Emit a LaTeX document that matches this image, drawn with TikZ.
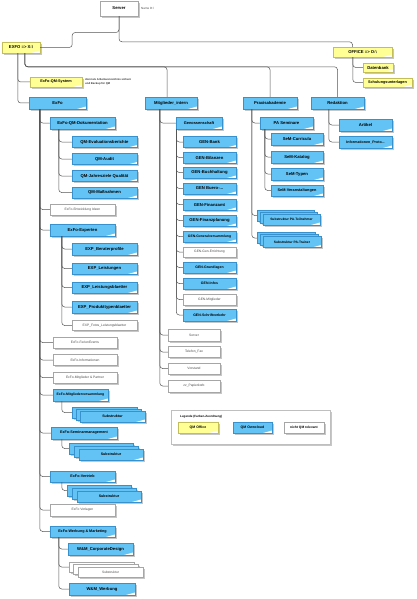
\documentclass[tikz,border=0pt]{standalone}
\usepackage{fontspec}
\setmainfont{Liberation Sans}
\usetikzlibrary{shadows,calc}
\definecolor{qmblue}{RGB}{100,195,245}
\definecolor{qmblueD}{RGB}{55,145,205}
\definecolor{qmyellow}{RGB}{255,255,150}
\definecolor{qmyellowD}{RGB}{195,190,90}
\definecolor{conncol}{RGB}{85,85,85}
\tikzset{
 base/.style={rectangle, inner sep=0pt, line width=0.4pt,
   drop shadow={shadow xshift=1.8pt, shadow yshift=-1.8pt, fill=black!40, opacity=0.55},
   font=\bfseries\fontsize{4.2}{5}\selectfont,
   path picture={\fill[white] ([xshift=-9pt]path picture bounding box.south east) -- (path picture bounding box.south east) -- ([yshift=2.5pt]path picture bounding box.south east) -- cycle;}},
 bluebox/.style={base, fill=qmblue, draw=qmblueD},
 yelbox/.style={base, fill=qmyellow, draw=qmyellowD},
 whitebox/.style={base, fill=white, draw=black!35, font=\fontsize{3.3}{4}\selectfont, text=black!70},
 conn/.style={draw=conncol, line width=0.5pt, rounded corners=3pt},
 sz/.style={font=\bfseries\fontsize{#1}{#1}\selectfont},
}
\newcommand{\treeconn}[3]{\draw[conn] ([xshift=#2pt]#1.south west) |- (#3.west);}
\begin{document}
\begin{tikzpicture}[x=1pt,y=-1pt]
\fill[white] (0,0) rectangle (416,599);
\useasboundingbox (0,0) rectangle (416,599);

% top
\node[whitebox, font=\bfseries\fontsize{4.2}{5}\selectfont, text=black, minimum width=38, minimum height=15] (server) at (119,8.5) {Server};
\node[anchor=west, font=\fontsize{3}{3}\selectfont, text=black!70, inner sep=0] (namelbl) at (141,8) {Name D:\textbackslash};
\node[yelbox, minimum width=38, minimum height=11] (exfo) at (21,47.5) {EXFO => X:\textbackslash};
\node[yelbox, minimum width=59, minimum height=10] (office) at (362.5,52) {OFFICE => O:\textbackslash};
\node[yelbox, minimum width=30, minimum height=9] (datenbank) at (378,67.5) {Datenbank};
\node[yelbox, sz=3.8, minimum width=49, minimum height=9] (schulung) at (387.5,82.5) {Schulungsunterlagen};
\node[yelbox, sz=3.8, minimum width=52, minimum height=10] (exfoqm) at (56,82) {ExFo-QM-System};
\node[anchor=west, align=left, font=\bfseries\fontsize{2.7}{3.6}\selectfont, text=black!80, inner sep=0] (qmnote) at (85,82) {dient als Arbeitsverzeichnis sichern\\und Backup für QM};

% level 1
\node[bluebox, minimum width=57, minimum height=12] (exfod) at (57.5,103) {ExFo};
\node[bluebox, minimum width=52, minimum height=12] (mi) at (171,103) {Mitglieder\_intern};
\node[bluebox, minimum width=54, minimum height=12] (pa) at (270,103) {Praxisakademie};
\node[bluebox, minimum width=53, minimum height=12] (red) at (337.5,103) {Redaktion};

% ExFo branch
\node[bluebox, minimum width=65, minimum height=12] (qmdok) at (82.5,123) {ExFo-QM-Dokumentation};
\node[bluebox, minimum width=65, minimum height=11] (qm1) at (104.5,142) {QM-Evaluationsberichte};
\node[bluebox, minimum width=65, minimum height=11] (qm2) at (104.5,159) {QM-Audit};
\node[bluebox, minimum width=65, minimum height=11] (qm3) at (104.5,176) {QM-Jahresziele Qualität};
\node[bluebox, minimum width=65, minimum height=11] (qm4) at (104.5,192.5) {QM-Maßnahmen};
\node[whitebox, minimum width=65, minimum height=11] (entw) at (82.5,209.5) {ExFo-Entwicklung Ideen};
\node[bluebox, minimum width=65, minimum height=12] (experten) at (82.5,230) {ExFo-Experten};
\node[bluebox, minimum width=65, minimum height=12] (exp1) at (104.5,249) {EXP\_Beraterprofile};
\node[bluebox, minimum width=65, minimum height=11] (exp2) at (104.5,268.5) {EXP\_Leistungen};
\node[bluebox, minimum width=65, minimum height=11] (exp3) at (104.5,287.5) {EXP\_Leistungsblaetter};
\node[bluebox, minimum width=65, minimum height=12] (exp4) at (104.5,307) {EXP\_Produkttypenblaetter};
\node[whitebox, minimum width=65, minimum height=10] (exp5) at (104.5,325.5) {EXP\_Fotos\_Leistungsblaetter};
\node[whitebox, minimum width=64, minimum height=11] (ferien) at (85,342.5) {ExFo-FerienEvents};
\node[whitebox, minimum width=64, minimum height=11] (infos) at (85,360) {ExFo-Informationen};
\node[whitebox, minimum width=64, minimum height=11] (mitpart) at (85,377.5) {ExFo-Mitglieder \& Partner};
\node[bluebox, sz=3.4, minimum width=55, minimum height=12] (mv) at (80.5,395) {ExFo-Mitgliederversammlung};
\node[bluebox, minimum width=65, minimum height=11] (sa1) at (104.5,412.5) {};
\node[bluebox, minimum width=65, minimum height=11] (sa2) at (108.5,414.5) {};
\node[bluebox, sz=3.6, minimum width=65, minimum height=11] (sa3) at (112.5,416.5) {Substruktur};
\node[bluebox, sz=3.7, minimum width=66, minimum height=12] (sm) at (84,433) {ExFo-Seminarmanagement};
\node[bluebox, minimum width=64, minimum height=11] (sb1) at (101,448.5) {};
\node[bluebox, minimum width=64, minimum height=11] (sb2) at (106,451.5) {};
\node[bluebox, sz=3.6, minimum width=64, minimum height=11] (sb3) at (111,454.5) {Substruktur};
\node[bluebox, sz=3.7, minimum width=65, minimum height=11] (vertrieb) at (82.5,476.5) {ExFo-Vertrieb};
\node[bluebox, minimum width=64, minimum height=11] (sc1) at (99,490.5) {};
\node[bluebox, minimum width=64, minimum height=11] (sc2) at (104,493.5) {};
\node[bluebox, sz=3.6, minimum width=64, minimum height=11] (sc3) at (109,496.5) {Substruktur};
\node[whitebox, minimum width=65, minimum height=12] (vorlagen) at (82.5,510) {ExFo Vorlagen};
\node[bluebox, sz=3.7, minimum width=65, minimum height=11] (wm) at (82.5,531.5) {ExFo-Werbung \& Marketing};
\node[bluebox, minimum width=65, minimum height=12] (wm1) at (100.5,549) {W\&M\_CorporateDesign};
\node[whitebox, minimum width=65, minimum height=10] (sd1) at (101.5,567) {};
\node[whitebox, minimum width=65, minimum height=10] (sd2) at (106,569.5) {};
\node[whitebox, minimum width=65, minimum height=10] (sd3) at (110.5,572) {Substruktur};
\node[bluebox, minimum width=66, minimum height=12] (wm2) at (102,589) {W\&M\_Werbung};

% Mitglieder_intern branch
\node[bluebox, sz=3.9, minimum width=46, minimum height=12] (gen) at (199,123) {Genossenschaft};
\node[bluebox, minimum width=53, minimum height=11] (g1) at (209.5,142) {GEN-Bank};
\node[bluebox, minimum width=53, minimum height=11] (g2) at (209.5,157.5) {GEN-Bilanzen};
\node[bluebox, minimum width=53, minimum height=11] (g3) at (209.5,172.5) {GEN-Buchhaltung};
\node[bluebox, minimum width=53, minimum height=11] (g4) at (209.5,188.5) {GEN Buero-...};
\node[bluebox, minimum width=53, minimum height=11] (g5) at (209.5,204.5) {GEN-Finanzamt};
\node[bluebox, minimum width=53, minimum height=11] (g6) at (209.5,220.5) {GEN-Finanzplanung};
\node[bluebox, sz=3.4, minimum width=53, minimum height=11] (g7) at (209.5,236.5) {GEN-Generalversammlung};
\node[whitebox, minimum width=53, minimum height=10] (g8) at (209.5,252) {GEN-Gen-Errichtung};
\node[bluebox, sz=3.5, minimum width=53, minimum height=11] (g9) at (209.5,267.5) {GEN-Grundlagen};
\node[bluebox, sz=3.5, minimum width=53, minimum height=11] (g10) at (209.5,283.5) {GEN-Infos};
\node[whitebox, minimum width=53, minimum height=11] (g11) at (209.5,299.5) {GEN-Mitglieder};
\node[bluebox, sz=3.5, minimum width=53, minimum height=12] (g12) at (209.5,315) {GEN-Schriftverkehr};
\node[whitebox, minimum width=52, minimum height=12] (srv) at (194,335) {Server};
\node[whitebox, minimum width=52, minimum height=11] (tel) at (194,352) {Telefon\_Fax};
\node[whitebox, minimum width=52, minimum height=11] (vor) at (194,368.5) {Vorstand};
\node[whitebox, minimum width=52, minimum height=12] (zz) at (194,386) {zz\_Papierkorb};

% Praxisakademie branch
\node[bluebox, minimum width=53, minimum height=12] (pas) at (286.5,123) {PA Seminare};
\node[bluebox, minimum width=52, minimum height=12] (sem1) at (297,139) {SeM-Curricula};
\node[bluebox, minimum width=52, minimum height=12] (sem2) at (297,157) {SeM-Katalog};
\node[bluebox, minimum width=52, minimum height=12] (sem3) at (297,174) {SeM-Typen};
\node[bluebox, sz=3.8, minimum width=52, minimum height=11] (sem4) at (297,190.5) {SeM-Veranstaltungen};
\node[bluebox, minimum width=57, minimum height=11] (st1) at (285.5,215.5) {};
\node[bluebox, minimum width=57, minimum height=11] (st2) at (288.5,217.5) {};
\node[bluebox, sz=3.3, minimum width=57, minimum height=11] (st3) at (291.5,219.5) {Substruktur PA-Teilnehmer};
\node[bluebox, minimum width=58, minimum height=11] (su1) at (286,238) {};
\node[bluebox, minimum width=58, minimum height=11] (su2) at (289,240) {};
\node[bluebox, sz=3.3, minimum width=58, minimum height=11] (su3) at (292,242) {Substruktur PA-Trainer};

% Redaktion branch
\node[bluebox, minimum width=53, minimum height=12] (art) at (365.5,125) {Artikel};
\node[bluebox, sz=3.6, minimum width=53, minimum height=12] (info) at (365.5,142) {Informationen\_Proto...};

% legend
\node[base, fill=white, draw=black!25, minimum width=159, minimum height=34] (legend) at (250.5,427) {};
\node[anchor=west, inner sep=0, font=\bfseries\fontsize{3}{3}\selectfont] (legtitle) at (180,416.5) {Legende (Farben-Zuordnung)};
\node[yelbox, sz=3.5, minimum width=40, minimum height=11] (lg1) at (198,427.5) {QM Office};
\node[bluebox, sz=3.5, minimum width=39, minimum height=11] (lg2) at (252.5,427.5) {QM Owncloud};
\node[whitebox, font=\bfseries\fontsize{3.3}{4}\selectfont, text=black, minimum width=40, minimum height=11] (lg3) at (304,427.5) {nicht QM relevant};

% connectors
\draw[conn] (server.south) |- ($([xshift=-10pt]office.north)+(0,-5)$) -- ([xshift=-10pt]office.north);
\draw[conn] (server.south) |- ($(exfo.east)+(32,-15)$) |- (exfo.east);
\treeconn{office}{20}{datenbank}
\treeconn{office}{20}{schulung}
\treeconn{exfo}{16}{exfoqm}
\treeconn{exfo}{16}{exfod}
\draw[conn] ([xshift=23pt]exfo.south west) |- ($(mi.north)+(-4,-30)$) -- ([xshift=-4pt]mi.north);
\draw[conn] ([xshift=23pt]exfo.south west) |- ($(pa.north)+(0,-30)$) -- (pa.north);
\draw[conn] ([xshift=23pt]exfo.south west) |- ($(red.north)+(0,-30)$) -- (red.north);
\foreach \c in {qmdok,entw,experten,ferien,infos,mitpart,mv,sm,vertrieb,vorlagen,wm}{\treeconn{exfod}{11}{\c}}
\foreach \c in {qm1,qm2,qm3,qm4}{\treeconn{qmdok}{9}{\c}}
\foreach \c in {exp1,exp2,exp3,exp4,exp5}{\treeconn{experten}{12}{\c}}
\treeconn{mv}{9}{sa1}
\treeconn{sm}{11}{sb1}
\treeconn{vertrieb}{12}{sc1}
\foreach \c in {wm1,sd1,wm2}{\treeconn{wm}{9}{\c}}
\foreach \c in {gen,srv,tel,vor,zz}{\treeconn{mi}{15}{\c}}
\foreach \c in {g1,g2,g3,g4,g5,g6,g7,g8,g9,g10,g11,g12}{\treeconn{gen}{0.5}{\c}}
\foreach \c in {pas,st1,su1}{\treeconn{pa}{9}{\c}}
\foreach \c in {sem1,sem2,sem3,sem4}{\treeconn{pas}{5}{\c}}
\foreach \c in {art,info}{\treeconn{red}{18}{\c}}
\end{tikzpicture}
\end{document}
